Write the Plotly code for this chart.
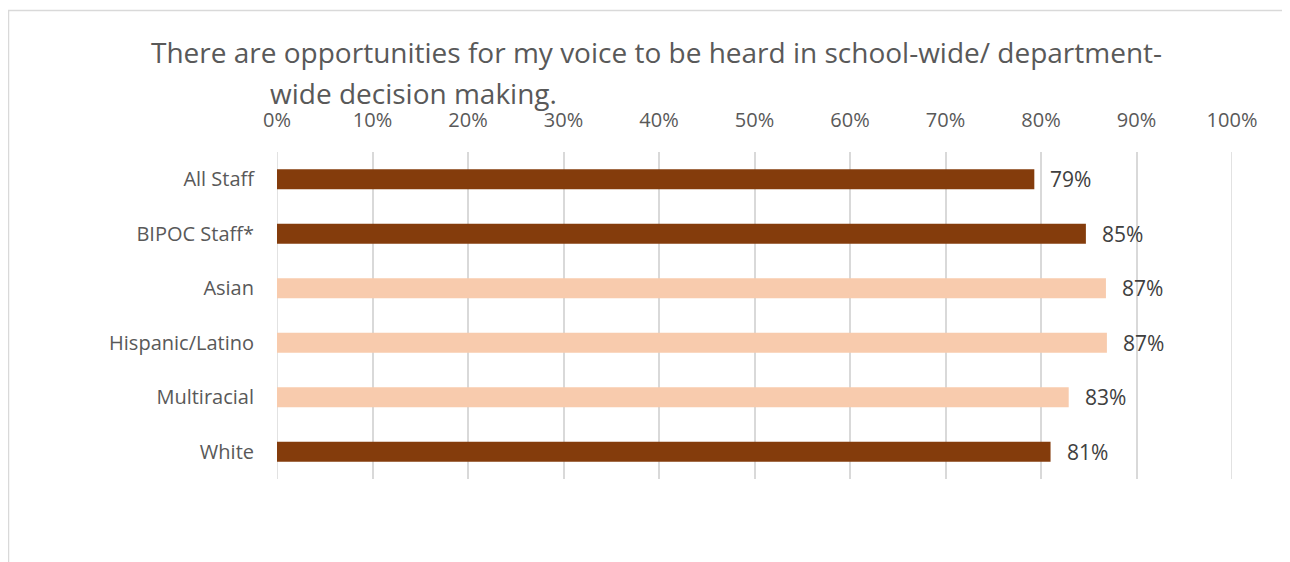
import plotly.graph_objects as go

categories = ["All Staff", "BIPOC Staff*", "Asian", "Hispanic/Latino", "Multiracial", "White"]
values = [0.793, 0.847, 0.868, 0.869, 0.829, 0.810]
labels = ["79%", "85%", "87%", "87%", "83%", "81%"]
colors = ["#843C0C", "#843C0C", "#F8CBAD", "#F8CBAD", "#F8CBAD", "#843C0C"]
tick_vals = [i / 10 for i in range(11)]
tick_text = [f"{i*10}%" for i in range(11)]

OFF = 8  # page body margin
W, H = 1282, 554
# plot area in page coordinates
PL, PR, PT, PB = 277, 1232, 151.7, 479.3
L = PL - OFF
T = PT - OFF
R = W - (PR - OFF)
B = H - (PB - OFF)
pw, ph = PR - PL, PB - PT

def px_x(p):
    return (p - PL) / pw

def px_y(p):
    return (PB - p) / ph

FONT = "Open Sans"
GRID = "#D9D9D9"

fig = go.Figure()
fig.add_trace(go.Bar(
    x=values, y=categories, orientation="h",
    marker=dict(color=colors, line=dict(width=0)),
    width=0.37, hoverinfo="skip",
))

for c, v, t in zip(categories, values, labels):
    fig.add_annotation(x=v, y=c, text=t, showarrow=False, xanchor="left",
                       xshift=14, font=dict(size=21, color="#404040", family=FONT))

fig.add_annotation(xref="paper", yref="paper", x=px_x(656), y=px_y(52),
                   text="There are opportunities for my voice to be heard in school-wide/ department-",
                   showarrow=False, xanchor="center", yanchor="middle",
                   font=dict(size=28, color="#595959", family=FONT))
fig.add_annotation(xref="paper", yref="paper", x=px_x(268), y=px_y(93),
                   text="wide decision making.",
                   showarrow=False, xanchor="left", yanchor="middle",
                   font=dict(size=28, color="#595959", family=FONT))

fig.add_shape(type="rect", xref="paper", yref="paper",
              x0=px_x(8.5), x1=px_x(1310), y0=px_y(620), y1=px_y(10),
              line=dict(color=GRID, width=1.5), fillcolor="rgba(0,0,0,0)", layer="below")

# edge gridlines (0% and 100%)
for gx in (tick_vals[0], tick_vals[-1]):
    fig.add_shape(type="line", xref="x", yref="paper", x0=gx, x1=gx, y0=0, y1=1,
                  line=dict(color=GRID, width=1.5), layer="below")

fig.update_layout(
    width=W, height=H,
    margin=dict(l=L, r=R, t=T, b=B),
    plot_bgcolor="white", paper_bgcolor="white",
    showlegend=False,
    font=dict(family=FONT, color="#595959", size=20),
    xaxis=dict(side="top", range=[0, 1], tickvals=tick_vals, ticktext=tick_text,
               showgrid=True, gridcolor=GRID, gridwidth=1.5,
               zeroline=False, showline=False, ticks="", ticklabelstandoff=20,
               tickfont=dict(size=20, color="#595959", family=FONT)),
    yaxis=dict(autorange="reversed", showgrid=False, zeroline=False, showline=False,
               ticks="", ticklabelstandoff=22,
               tickfont=dict(size=20, color="#595959", family=FONT)),
)

fig.write_html("out.html")
